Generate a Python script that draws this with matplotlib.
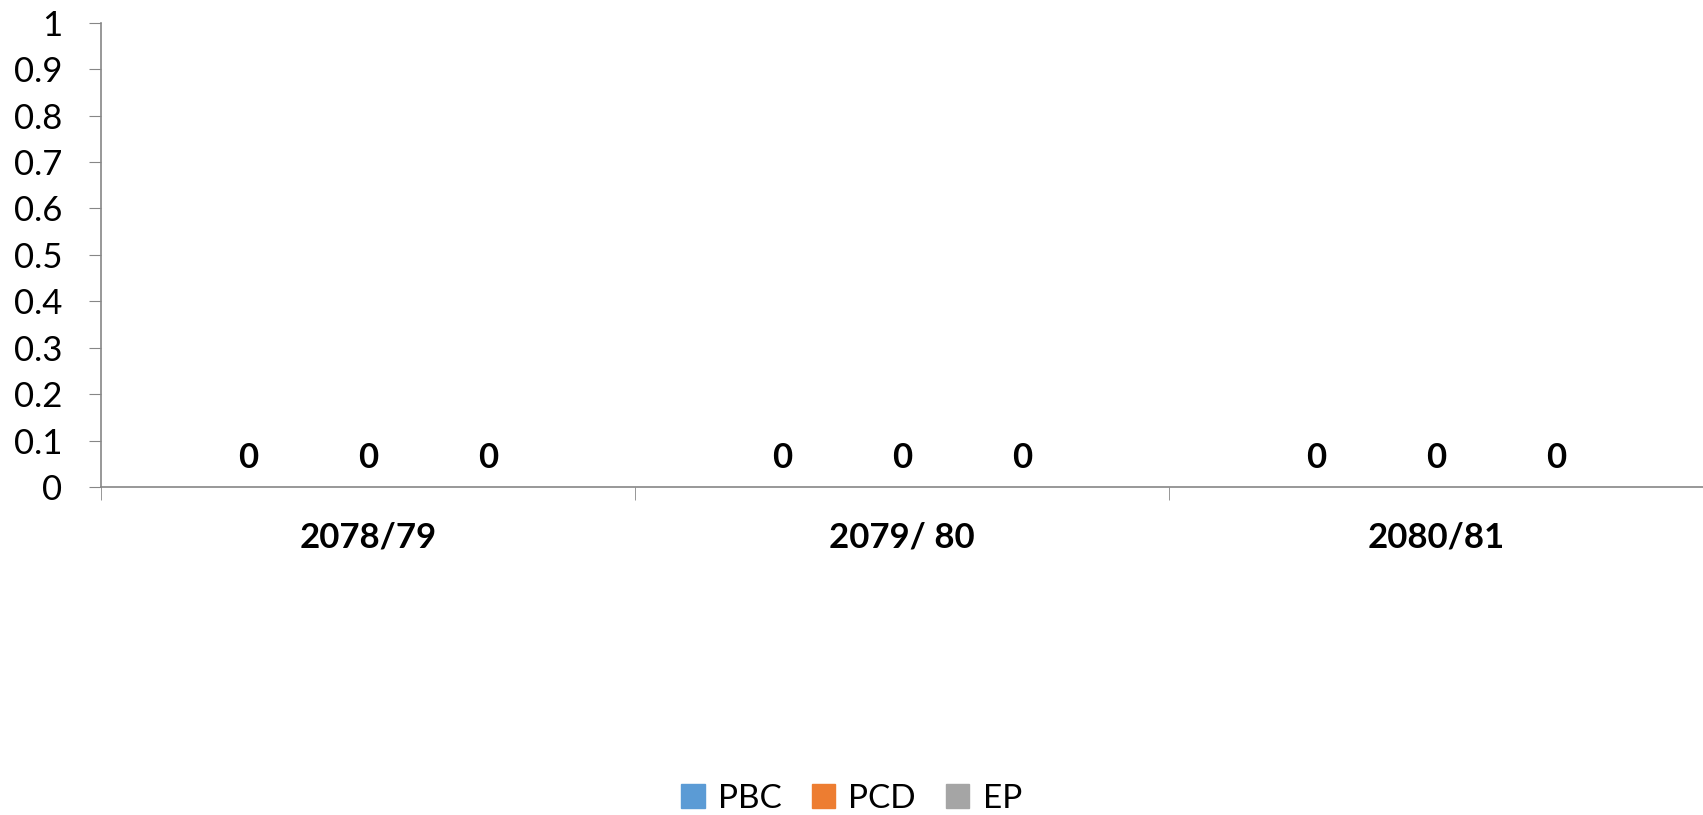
import matplotlib.pyplot as plt
import numpy as np
from matplotlib.patches import Patch

plt.rcParams['font.family'] = ['Lato', 'DejaVu Sans']

# Data (all values are zero)
years = ["2078/79", "2079/ 80", "2080/81"]
series = ["PBC", "PCD", "EP"]
pbc = [0, 0, 0]
pcd = [0, 0, 0]
ep = [0, 0, 0]
colors = ["#5B9BD5", "#ED7D31", "#A5A5A5"]

fig = plt.figure(figsize=(17.03, 8.15), dpi=100)
ax = fig.add_axes([0.0593, 0.4025, 0.9407, 0.5696])

x = np.arange(len(years))
width = 0.225
for i, (vals, name, c) in enumerate(zip([pbc, pcd, ep], series, colors)):
    bars = ax.bar(x + (i - 1) * width, vals, width * 0.9, color=c, label=name)
    ax.bar_label(bars, padding=9, fontsize=25, fontweight='bold')

ax.set_xlim(-0.5, len(years) - 0.5)
ax.set_ylim(0, 1)
ax.set_yticks(np.arange(0, 1.01, 0.1))
ax.set_yticklabels(["0", "0.1", "0.2", "0.3", "0.4", "0.5", "0.6", "0.7", "0.8", "0.9", "1"])

ax.set_xticks(x)
ax.set_xticklabels(years, fontsize=25, fontweight='bold')
ax.set_xticks(np.arange(-0.5, len(years), 1), minor=True)
ax.tick_params(axis='x', which='major', length=0, pad=25)
ax.tick_params(axis='x', which='minor', length=9, color='#868686')
ax.tick_params(axis='y', length=9, color='#868686', labelsize=25, pad=19)

for s in ['top', 'right']:
    ax.spines[s].set_visible(False)
for s in ['left', 'bottom']:
    ax.spines[s].set_color('#868686')
    ax.spines[s].set_linewidth(1.2)

handles = [Patch(color=c, label=n) for c, n in zip(colors, series)]
fig.legend(handles=handles, loc='center', bbox_to_anchor=(0.5, 0.02), ncol=3,
           frameon=False, fontsize=24, handlelength=0.7, handleheight=0.7,
           handletextpad=0.4, columnspacing=0.9, borderpad=0.1)

fig.savefig("out.png", dpi=100)
